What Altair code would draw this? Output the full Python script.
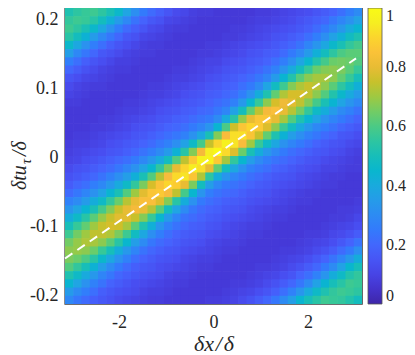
import altair as alt
import pandas as pd
import numpy as np

# ---- data ----
X_MIN, X_MAX = -np.pi, np.pi
Y_MIN, Y_MAX = -0.213, 0.216

# correlation estimates: one list per x-column (left -> right), values from top to bottom
corr_cols = [
    [0.52,0.56,0.58,0.54,0.46,0.36,0.26,0.20,0.15,0.12,0.10,0.08,0.07,0.07,0.07,0.07,0.08,0.09,0.10,0.12,0.14,0.17,0.21,0.27,0.33,0.41,0.50,0.58,0.65,0.68,0.66,0.61,0.52,0.44,0.35,0.29],
    [0.55,0.58,0.55,0.49,0.39,0.29,0.22,0.17,0.13,0.10,0.09,0.08,0.07,0.07,0.07,0.08,0.09,0.10,0.11,0.14,0.16,0.20,0.24,0.30,0.38,0.47,0.57,0.65,0.69,0.69,0.64,0.56,0.47,0.38,0.30,0.24],
    [0.57,0.57,0.51,0.43,0.32,0.24,0.18,0.14,0.11,0.09,0.08,0.07,0.07,0.07,0.07,0.08,0.09,0.11,0.13,0.15,0.18,0.22,0.28,0.35,0.44,0.54,0.63,0.70,0.72,0.68,0.60,0.50,0.40,0.32,0.26,0.21],
    [0.58,0.54,0.46,0.35,0.26,0.20,0.15,0.12,0.10,0.08,0.07,0.07,0.07,0.07,0.08,0.09,0.10,0.12,0.14,0.17,0.20,0.26,0.32,0.41,0.51,0.62,0.70,0.74,0.71,0.64,0.54,0.43,0.34,0.27,0.22,0.18],
    [0.55,0.49,0.39,0.29,0.22,0.16,0.13,0.10,0.09,0.08,0.07,0.07,0.07,0.08,0.08,0.10,0.11,0.13,0.16,0.19,0.23,0.29,0.37,0.47,0.59,0.69,0.75,0.74,0.68,0.57,0.46,0.36,0.28,0.23,0.18,0.16],
    [0.51,0.42,0.32,0.24,0.18,0.14,0.11,0.09,0.08,0.07,0.07,0.07,0.07,0.08,0.09,0.11,0.13,0.15,0.18,0.21,0.27,0.34,0.44,0.56,0.67,0.75,0.77,0.72,0.62,0.50,0.39,0.30,0.24,0.19,0.16,0.14],
    [0.46,0.35,0.26,0.20,0.15,0.12,0.09,0.08,0.07,0.07,0.07,0.07,0.08,0.09,0.10,0.12,0.14,0.16,0.20,0.24,0.31,0.40,0.51,0.64,0.75,0.79,0.76,0.66,0.54,0.41,0.32,0.25,0.20,0.17,0.14,0.12],
    [0.38,0.29,0.21,0.16,0.13,0.10,0.09,0.08,0.07,0.07,0.07,0.08,0.09,0.10,0.11,0.13,0.16,0.18,0.22,0.28,0.36,0.47,0.61,0.73,0.80,0.79,0.71,0.58,0.45,0.34,0.27,0.21,0.18,0.15,0.13,0.11],
    [0.31,0.23,0.18,0.14,0.11,0.09,0.08,0.07,0.07,0.07,0.07,0.08,0.09,0.11,0.13,0.15,0.17,0.20,0.25,0.32,0.42,0.56,0.70,0.80,0.82,0.75,0.62,0.48,0.36,0.28,0.22,0.18,0.16,0.13,0.12,0.10],
    [0.25,0.19,0.15,0.11,0.09,0.08,0.07,0.07,0.07,0.07,0.08,0.09,0.10,0.12,0.14,0.16,0.19,0.23,0.29,0.38,0.51,0.66,0.79,0.84,0.80,0.67,0.52,0.39,0.30,0.23,0.19,0.16,0.14,0.12,0.10,0.09],
    [0.21,0.16,0.12,0.10,0.08,0.08,0.07,0.07,0.07,0.08,0.09,0.10,0.11,0.13,0.15,0.18,0.21,0.26,0.34,0.45,0.61,0.77,0.86,0.84,0.73,0.57,0.42,0.31,0.24,0.20,0.17,0.15,0.13,0.11,0.09,0.08],
    [0.18,0.14,0.11,0.09,0.08,0.07,0.07,0.07,0.07,0.08,0.09,0.11,0.13,0.15,0.17,0.20,0.24,0.30,0.40,0.56,0.73,0.85,0.87,0.78,0.62,0.45,0.33,0.26,0.21,0.18,0.15,0.13,0.12,0.10,0.09,0.08],
    [0.15,0.11,0.09,0.08,0.07,0.07,0.07,0.07,0.08,0.09,0.10,0.12,0.14,0.16,0.19,0.22,0.27,0.35,0.49,0.67,0.83,0.90,0.83,0.67,0.49,0.35,0.27,0.22,0.19,0.16,0.14,0.12,0.10,0.09,0.08,0.07],
    [0.12,0.10,0.08,0.07,0.07,0.07,0.07,0.08,0.09,0.10,0.11,0.13,0.15,0.18,0.20,0.24,0.31,0.43,0.61,0.80,0.91,0.88,0.74,0.54,0.38,0.28,0.23,0.19,0.17,0.15,0.13,0.11,0.09,0.08,0.07,0.07],
    [0.11,0.09,0.08,0.07,0.07,0.07,0.07,0.08,0.09,0.11,0.13,0.15,0.17,0.19,0.22,0.27,0.37,0.54,0.74,0.90,0.93,0.80,0.59,0.41,0.30,0.23,0.20,0.17,0.15,0.13,0.11,0.10,0.09,0.08,0.07,0.07],
    [0.09,0.08,0.07,0.07,0.07,0.07,0.08,0.09,0.10,0.12,0.14,0.16,0.18,0.21,0.25,0.32,0.47,0.67,0.87,0.95,0.86,0.66,0.45,0.32,0.24,0.21,0.18,0.16,0.14,0.12,0.10,0.09,0.08,0.07,0.07,0.07],
    [0.08,0.07,0.07,0.07,0.07,0.08,0.09,0.10,0.11,0.13,0.15,0.17,0.20,0.23,0.28,0.39,0.59,0.82,0.96,0.92,0.72,0.49,0.33,0.25,0.21,0.19,0.17,0.15,0.13,0.11,0.09,0.08,0.07,0.07,0.07,0.07],
    [0.08,0.07,0.07,0.07,0.08,0.08,0.10,0.11,0.13,0.15,0.17,0.19,0.21,0.25,0.33,0.51,0.75,0.95,0.97,0.80,0.55,0.36,0.26,0.22,0.19,0.17,0.15,0.13,0.11,0.10,0.09,0.08,0.07,0.07,0.07,0.08],
    [0.07,0.07,0.07,0.07,0.08,0.09,0.10,0.12,0.14,0.16,0.18,0.21,0.24,0.30,0.44,0.67,0.90,0.99,0.87,0.63,0.41,0.29,0.23,0.20,0.18,0.16,0.14,0.12,0.10,0.09,0.08,0.07,0.07,0.07,0.07,0.08],
    [0.07,0.07,0.07,0.08,0.09,0.10,0.12,0.14,0.16,0.18,0.20,0.23,0.28,0.40,0.60,0.83,0.96,0.91,0.71,0.49,0.33,0.25,0.21,0.18,0.16,0.14,0.12,0.11,0.09,0.08,0.07,0.07,0.07,0.07,0.08,0.09],
    [0.07,0.07,0.08,0.08,0.10,0.11,0.13,0.15,0.17,0.19,0.22,0.27,0.37,0.54,0.76,0.92,0.93,0.78,0.56,0.39,0.28,0.23,0.20,0.17,0.15,0.13,0.11,0.10,0.09,0.08,0.07,0.07,0.07,0.08,0.09,0.10],
    [0.07,0.07,0.08,0.09,0.11,0.12,0.14,0.16,0.19,0.22,0.26,0.34,0.49,0.69,0.86,0.92,0.83,0.64,0.45,0.32,0.25,0.21,0.18,0.16,0.14,0.12,0.10,0.09,0.08,0.07,0.07,0.07,0.07,0.08,0.10,0.12],
    [0.07,0.08,0.09,0.10,0.12,0.14,0.16,0.18,0.21,0.25,0.32,0.45,0.63,0.80,0.90,0.86,0.70,0.51,0.36,0.27,0.22,0.19,0.16,0.14,0.12,0.11,0.09,0.08,0.07,0.07,0.07,0.07,0.08,0.09,0.11,0.14],
    [0.08,0.09,0.10,0.11,0.13,0.15,0.17,0.20,0.24,0.30,0.41,0.57,0.74,0.86,0.87,0.75,0.57,0.41,0.30,0.24,0.20,0.17,0.15,0.13,0.11,0.10,0.09,0.08,0.07,0.07,0.07,0.08,0.09,0.10,0.13,0.17],
    [0.08,0.09,0.11,0.12,0.14,0.17,0.19,0.23,0.28,0.38,0.52,0.68,0.82,0.86,0.78,0.63,0.47,0.34,0.26,0.22,0.18,0.16,0.14,0.12,0.10,0.09,0.08,0.07,0.07,0.07,0.07,0.08,0.10,0.12,0.15,0.20],
    [0.09,0.10,0.12,0.14,0.16,0.18,0.22,0.27,0.35,0.48,0.63,0.77,0.84,0.80,0.68,0.52,0.39,0.29,0.23,0.19,0.16,0.14,0.12,0.11,0.09,0.08,0.07,0.07,0.07,0.07,0.08,0.09,0.11,0.14,0.18,0.24],
    [0.10,0.11,0.13,0.15,0.18,0.21,0.26,0.33,0.44,0.58,0.72,0.81,0.80,0.71,0.57,0.43,0.32,0.25,0.21,0.18,0.15,0.13,0.11,0.10,0.09,0.08,0.07,0.07,0.07,0.08,0.09,0.10,0.13,0.17,0.22,0.30],
    [0.11,0.12,0.14,0.17,0.20,0.25,0.31,0.40,0.53,0.67,0.77,0.79,0.73,0.61,0.48,0.36,0.28,0.22,0.19,0.16,0.14,0.12,0.10,0.09,0.08,0.07,0.07,0.07,0.07,0.08,0.10,0.12,0.15,0.20,0.27,0.36],
    [0.12,0.14,0.16,0.19,0.23,0.29,0.38,0.49,0.62,0.72,0.77,0.74,0.65,0.52,0.40,0.31,0.25,0.20,0.17,0.14,0.12,0.11,0.09,0.08,0.07,0.07,0.07,0.07,0.08,0.09,0.11,0.14,0.19,0.24,0.33,0.44],
    [0.13,0.16,0.18,0.22,0.28,0.35,0.45,0.57,0.68,0.75,0.74,0.67,0.56,0.44,0.34,0.27,0.22,0.18,0.15,0.13,0.11,0.10,0.08,0.08,0.07,0.07,0.07,0.08,0.09,0.10,0.13,0.17,0.22,0.30,0.40,0.50],
    [0.15,0.18,0.21,0.26,0.33,0.42,0.53,0.64,0.71,0.73,0.68,0.59,0.47,0.38,0.29,0.24,0.19,0.16,0.14,0.12,0.10,0.09,0.08,0.07,0.07,0.07,0.07,0.08,0.10,0.12,0.16,0.20,0.27,0.37,0.47,0.54],
    [0.17,0.20,0.25,0.31,0.39,0.49,0.59,0.67,0.71,0.68,0.61,0.51,0.41,0.32,0.26,0.21,0.17,0.15,0.12,0.10,0.09,0.08,0.07,0.07,0.07,0.07,0.08,0.09,0.11,0.14,0.19,0.25,0.33,0.44,0.52,0.58],
    [0.19,0.24,0.29,0.37,0.46,0.55,0.64,0.68,0.68,0.62,0.53,0.44,0.35,0.28,0.23,0.19,0.15,0.13,0.11,0.10,0.08,0.08,0.07,0.07,0.07,0.08,0.09,0.11,0.13,0.17,0.23,0.30,0.41,0.50,0.56,0.57],
    [0.22,0.28,0.34,0.42,0.51,0.60,0.65,0.66,0.63,0.55,0.46,0.38,0.30,0.25,0.20,0.16,0.14,0.12,0.10,0.09,0.08,0.07,0.07,0.07,0.08,0.08,0.10,0.12,0.16,0.21,0.28,0.37,0.47,0.54,0.58,0.56],
    [0.26,0.32,0.40,0.48,0.56,0.62,0.64,0.62,0.57,0.49,0.40,0.33,0.27,0.22,0.18,0.15,0.12,0.10,0.09,0.08,0.07,0.07,0.07,0.07,0.08,0.09,0.11,0.14,0.19,0.25,0.34,0.45,0.53,0.58,0.57,0.53],
    [0.30,0.37,0.44,0.52,0.59,0.62,0.61,0.57,0.50,0.42,0.35,0.29,0.23,0.19,0.16,0.13,0.11,0.09,0.08,0.08,0.07,0.07,0.07,0.08,0.09,0.11,0.13,0.17,0.23,0.31,0.41,0.50,0.56,0.57,0.55,0.49],
]

x_ticks = [-2, 0, 2]
y_ticks = [-0.2, -0.1, 0, 0.1, 0.2]
cbar_ticks = [0, 0.2, 0.4, 0.6, 0.8, 1]

# white dashed reference line (end points)
line_x = [-3.1416, 3.015]
line_y = [-0.147, 0.143]

# parula colormap stops
parula_stops = [0, 4/63, 8/63, 12/63, 16/63, 20/63, 24/63, 28/63, 32/63,
                36/63, 40/63, 44/63, 48/63, 52/63, 56/63, 60/63, 1]
parula_colors = ["#3E26A8", "#4537D5", "#484DF0", "#4563FD", "#327CFC", "#2B91EF",
                 "#20A5E3", "#08B5D0", "#19BFB6", "#37C897", "#64CD6F", "#9DC943",
                 "#D1BF27", "#F8BA3D", "#FCCF30", "#F6EF20", "#F9FB15"]

# ---- build table ----
nx = len(corr_cols)
ny = len(corr_cols[0])
dx = (X_MAX - X_MIN) / nx
dy = (Y_MAX - Y_MIN) / ny
recs = []
for i, col in enumerate(corr_cols):
    for j, v in enumerate(col):
        x0 = X_MIN + i * dx
        ytop = Y_MAX - j * dy
        recs.append({"x0": x0, "x1": x0 + dx * 1.08,
                     "y0": ytop - dy * 1.08, "y1": ytop, "r": v})
grid = pd.DataFrame(recs)
line_df = pd.DataFrame({"x0": line_x, "y0": line_y})

FONT = "Liberation Serif, Times New Roman, Times, DejaVu Serif, serif"
TXT = "#262626"
lab_expr = "(datum.value < 0 ? '-' : '') + format(abs(datum.value), '.1~f')"

PLOT_W, PLOT_H = 297, 296

xscale = alt.Scale(domain=[X_MIN, X_MAX], nice=False, zero=False)
yscale = alt.Scale(domain=[Y_MIN, Y_MAX], nice=False, zero=False)

heat = alt.Chart(grid).mark_rect(clip=True).encode(
    x=alt.X("x0:Q", scale=xscale,
            axis=alt.Axis(values=x_ticks, title="δx\u200a/\u200aδ", labelExpr=lab_expr,
                          ticks=False, domain=False, grid=False,
                          labelFont=FONT, labelFontSize=18, labelColor=TXT, labelPadding=9,
                          titleFont=FONT, titleFontSize=22, titleFontStyle="italic",
                          titleFontWeight="normal", titleColor=TXT, titlePadding=2)),
    x2="x1:Q",
    y=alt.Y("y0:Q", scale=yscale,
            axis=alt.Axis(values=y_ticks, title=None, labelExpr=lab_expr,
                          ticks=False, domain=False, grid=False,
                          labelFont=FONT, labelFontSize=18, labelColor=TXT, labelPadding=7)),
    y2="y1:Q",
    color=alt.Color("r:Q", title=None,
                    scale=alt.Scale(domain=parula_stops, range=parula_colors,
                                    interpolate="rgb"),
                    legend=alt.Legend(orient="right", offset=6, values=cbar_ticks,
                                      format=".1~f", gradientLength=PLOT_H,
                                      gradientThickness=14, gradientStrokeColor="#555555",
                                      gradientStrokeWidth=0.8, labelFont=FONT,
                                      labelFontSize=16, labelColor=TXT, labelOffset=4,
                                      padding=0)),
)

dash = alt.Chart(line_df).mark_line(color="white", strokeWidth=2,
                                    strokeDash=[9, 6]).encode(
    x=alt.X("x0:Q", scale=xscale), y=alt.Y("y0:Q", scale=yscale))


def ypiece(txt, xpos, ypos, size):
    return alt.Chart(pd.DataFrame({"t": [txt]})).mark_text(
        angle=270, align="left", baseline="alphabetic", font=FONT,
        fontStyle="italic", fontSize=size, color=TXT
    ).encode(x=alt.value(xpos), y=alt.value(ypos), text="t:N")


yt1 = ypiece("δtu", -39, 182, 20)
yt2 = ypiece("τ", -34, 156, 14)
yt3 = ypiece("/δ", -39, 148, 20)

chart = alt.layer(heat, dash, yt1, yt2, yt3).properties(
    width=PLOT_W, height=PLOT_H,
    padding={"left": 57, "top": 0, "right": 45, "bottom": 50},
    autosize=alt.AutoSizeParams(type="none"),
).configure_view(stroke="#404040", strokeWidth=1.4)

chart.save("out.html", embed_options={"renderer": "svg", "actions": False})
